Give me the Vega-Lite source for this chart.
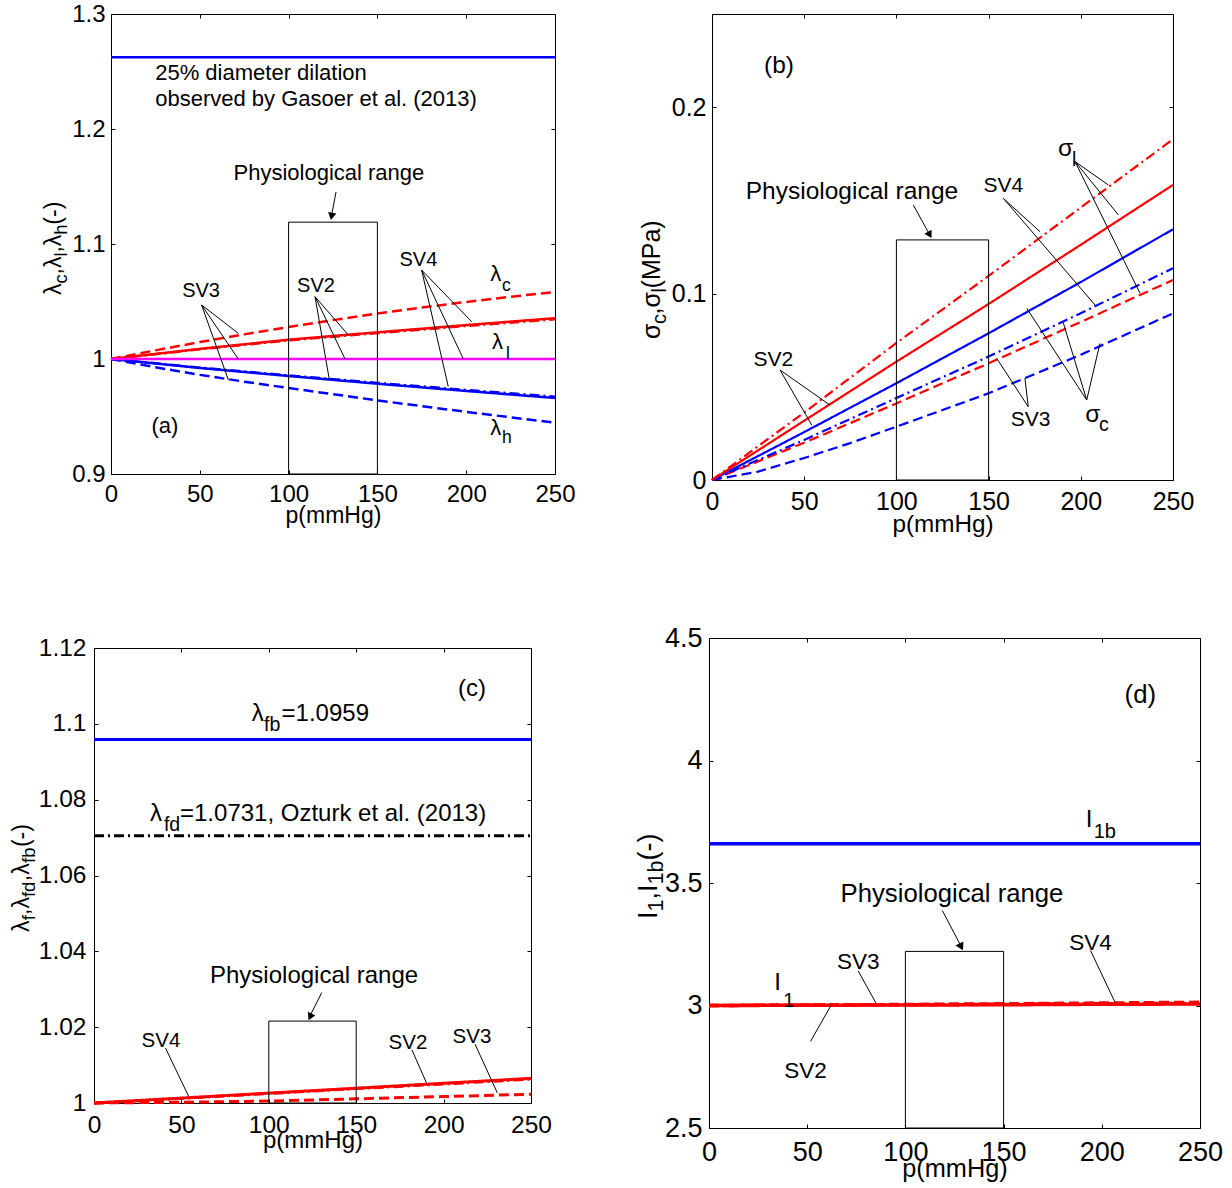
{
"$schema": "https://vega.github.io/schema/vega-lite/v6.json",
"autosize": {"type": "none"},
"padding": {"left": 94, "top": 14, "right": 1138, "bottom": 1174},
"background": "white",
"config": {
  "font": "Liberation Sans",
  "view": {"stroke": null},
  "axis": {"tickSize": -4, "tickColor": "black", "tickWidth": 1, "domainColor": "black", "domainWidth": 1, "labelColor": "black", "titleColor": "black", "grid": false, "titleFontWeight": "normal", "labelFlush": false, "labelOverlap": false, "labelBound": false, "labelFont": "Liberation Sans", "titleFont": "Liberation Sans"},
  "text": {"color": "black"}
},
"datasets": {
  "aL": [
    {"q":"dil","sv":"ref","p":0,"v":1.2625},{"q":"dil","sv":"ref","p":250,"v":1.2625},
    {"q":"lc","sv":"SV3","p":0,"v":1},{"q":"lc","sv":"SV3","p":25,"v":1.0075},{"q":"lc","sv":"SV3","p":50,"v":1.0147},{"q":"lc","sv":"SV3","p":75,"v":1.0214},{"q":"lc","sv":"SV3","p":100,"v":1.0278},{"q":"lc","sv":"SV3","p":125,"v":1.0338},{"q":"lc","sv":"SV3","p":150,"v":1.0395},{"q":"lc","sv":"SV3","p":175,"v":1.0447},{"q":"lc","sv":"SV3","p":200,"v":1.0496},{"q":"lc","sv":"SV3","p":225,"v":1.0541},{"q":"lc","sv":"SV3","p":250,"v":1.0583},
    {"q":"lc","sv":"SV4","p":0,"v":1},{"q":"lc","sv":"SV4","p":50,"v":1.0084},{"q":"lc","sv":"SV4","p":100,"v":1.0162},{"q":"lc","sv":"SV4","p":150,"v":1.0225},{"q":"lc","sv":"SV4","p":200,"v":1.0287},{"q":"lc","sv":"SV4","p":250,"v":1.0345},
    {"q":"lc","sv":"SV2","p":0,"v":1},{"q":"lc","sv":"SV2","p":50,"v":1.0088},{"q":"lc","sv":"SV2","p":100,"v":1.0168},{"q":"lc","sv":"SV2","p":150,"v":1.0232},{"q":"lc","sv":"SV2","p":200,"v":1.0295},{"q":"lc","sv":"SV2","p":250,"v":1.0355},
    {"q":"lh","sv":"SV3","p":0,"v":1},{"q":"lh","sv":"SV3","p":25,"v":0.9928},{"q":"lh","sv":"SV3","p":50,"v":0.9862},{"q":"lh","sv":"SV3","p":75,"v":0.9803},{"q":"lh","sv":"SV3","p":100,"v":0.9748},{"q":"lh","sv":"SV3","p":150,"v":0.964},{"q":"lh","sv":"SV3","p":200,"v":0.954},{"q":"lh","sv":"SV3","p":250,"v":0.9446},
    {"q":"lh","sv":"SV4","p":0,"v":1},{"q":"lh","sv":"SV4","p":50,"v":0.9925},{"q":"lh","sv":"SV4","p":100,"v":0.9857},{"q":"lh","sv":"SV4","p":150,"v":0.9792},{"q":"lh","sv":"SV4","p":200,"v":0.9731},{"q":"lh","sv":"SV4","p":250,"v":0.9672},
    {"q":"lh","sv":"SV2","p":0,"v":1},{"q":"lh","sv":"SV2","p":50,"v":0.9922},{"q":"lh","sv":"SV2","p":100,"v":0.9852},{"q":"lh","sv":"SV2","p":150,"v":0.9785},{"q":"lh","sv":"SV2","p":200,"v":0.9722},{"q":"lh","sv":"SV2","p":250,"v":0.9661},
    {"q":"ll","sv":"SV2","p":0,"v":1},{"q":"ll","sv":"SV2","p":250,"v":1}
  ],
  "aB": [{"x0":100,"x1":150,"y0":0.9,"y1":1.119}],
  "aR": [
    {"x":51.0,"y":1.047,"x2":71.7,"y2":1.0223},{"x":51.0,"y":1.047,"x2":71.7,"y2":1.0},{"x":51.0,"y":1.047,"x2":66.1,"y2":0.9817},
    {"x":114.9,"y":1.0542,"x2":133.6,"y2":1.0209},{"x":114.9,"y":1.0542,"x2":131.8,"y2":1.0},{"x":114.9,"y":1.0542,"x2":122.9,"y2":0.9823},
    {"x":174.9,"y":1.0774,"x2":203.1,"y2":1.0324},{"x":174.9,"y":1.0774,"x2":198.4,"y2":1.0},{"x":174.9,"y":1.0774,"x2":189.9,"y2":0.976},
    {"x":126.7,"y":1.1452,"x2":124.4,"y2":1.1265}
  ],
  "aH": [{"x":124.2,"y":1.124}],
  "aC": [{"x":122.7,"y":1.1617,"t":"Physiological range"},{"x":30.3,"y":0.9417,"t":"(a)"}],
  "aS": [{"x":50.7,"y":1.0592,"t":"SV3"},{"x":115.4,"y":1.0631,"t":"SV2"},{"x":173.1,"y":1.0862,"t":"SV4"}],
  "aT": [{"x":24.9,"y":1.249,"t":"25% diameter dilation"},{"x":24.9,"y":1.2259,"t":"observed by Gasoer et al. (2013)"},{"x":213.6,"y":1.0739,"t":"λ"},{"x":214.5,"y":1.0151,"t":"λ"},{"x":213.6,"y":0.9402,"t":"λ"}],
  "aU": [{"x":220.2,"y":1.0631,"t":"c"},{"x":222.4,"y":1.0046,"t":"l"},{"x":220.2,"y":0.9313,"t":"h"}],
  "aM": [{"x":-28.2,"y":1.0557,"t":"λ"},{"x":-28.2,"y":1.0735,"t":","},{"x":-28.2,"y":1.0791,"t":"λ"},{"x":-28.2,"y":1.0926,"t":","},{"x":-28.2,"y":1.0981,"t":"λ"},{"x":-28.2,"y":1.1168,"t":"(-)"}],
  "aN": [{"x":-28.2,"y":1.0657,"t":"c"},{"x":-28.2,"y":1.0891,"t":"l"},{"x":-28.2,"y":1.1081,"t":"h"}],

  "bL": [
    {"q":"sl","sv":"SV3","p":0,"v":0},{"q":"sl","sv":"SV3","p":50,"v":0.02},{"q":"sl","sv":"SV3","p":100,"v":0.0411},{"q":"sl","sv":"SV3","p":150,"v":0.0626},{"q":"sl","sv":"SV3","p":200,"v":0.0848},{"q":"sl","sv":"SV3","p":250,"v":0.1073},
    {"q":"sc","sv":"SV3","p":0,"v":0},{"q":"sc","sv":"SV3","p":25,"v":0.0045},{"q":"sc","sv":"SV3","p":50,"v":0.0118},{"q":"sc","sv":"SV3","p":75,"v":0.0198},{"q":"sc","sv":"SV3","p":100,"v":0.0286},{"q":"sc","sv":"SV3","p":150,"v":0.0465},{"q":"sc","sv":"SV3","p":200,"v":0.0672},{"q":"sc","sv":"SV3","p":250,"v":0.0894},
    {"q":"sc","sv":"SV4","p":0,"v":0},{"q":"sc","sv":"SV4","p":50,"v":0.0215},{"q":"sc","sv":"SV4","p":100,"v":0.044},{"q":"sc","sv":"SV4","p":150,"v":0.0662},{"q":"sc","sv":"SV4","p":200,"v":0.0895},{"q":"sc","sv":"SV4","p":250,"v":0.1136},
    {"q":"sl","sv":"SV4","p":0,"v":0},{"q":"sl","sv":"SV4","p":50,"v":0.0362},{"q":"sl","sv":"SV4","p":100,"v":0.0735},{"q":"sl","sv":"SV4","p":150,"v":0.1095},{"q":"sl","sv":"SV4","p":200,"v":0.1462},{"q":"sl","sv":"SV4","p":250,"v":0.1828},
    {"q":"sc","sv":"SV2","p":0,"v":0},{"q":"sc","sv":"SV2","p":50,"v":0.0257},{"q":"sc","sv":"SV2","p":100,"v":0.0519},{"q":"sc","sv":"SV2","p":150,"v":0.0787},{"q":"sc","sv":"SV2","p":200,"v":0.1062},{"q":"sc","sv":"SV2","p":250,"v":0.1345},
    {"q":"sl","sv":"SV2","p":0,"v":0},{"q":"sl","sv":"SV2","p":50,"v":0.0318},{"q":"sl","sv":"SV2","p":100,"v":0.0635},{"q":"sl","sv":"SV2","p":150,"v":0.0944},{"q":"sl","sv":"SV2","p":200,"v":0.1262},{"q":"sl","sv":"SV2","p":250,"v":0.1583}
  ],
  "bB": [{"x0":100,"x1":150,"y0":0,"y1":0.1288}],
  "bR": [
    {"x":196.9,"y":0.1708,"x2":214.9,"y2":0.1583},{"x":196.9,"y":0.1708,"x2":220.4,"y2":0.1422},{"x":196.9,"y":0.1708,"x2":232.1,"y2":0.1002},
    {"x":203.2,"y":0.0429,"x2":170.7,"y2":0.0921},{"x":203.2,"y":0.0429,"x2":190.5,"y2":0.0844},{"x":203.2,"y":0.0429,"x2":210.4,"y2":0.0733},
    {"x":158,"y":0.1511,"x2":177.9,"y2":0.1332},{"x":158,"y":0.1511,"x2":207.7,"y2":0.0939},
    {"x":36.9,"y":0.059,"x2":64,"y2":0.0402},{"x":36.9,"y":0.059,"x2":54.1,"y2":0.0295},
    {"x":171.5,"y":0.0393,"x2":154.4,"y2":0.0653},{"x":171.5,"y":0.0393,"x2":169.7,"y2":0.0546},
    {"x":109.2,"y":0.1475,"x2":117.8,"y2":0.132}
  ],
  "bH": [{"x":118.1,"y":0.1315}],
  "bC": [{"x":75.9,"y":0.1545,"t":"Physiological range"},{"x":36.3,"y":0.2223,"t":"(b)"}],
  "bS": [{"x":158.0,"y":0.1577,"t":"SV4"},{"x":33.3,"y":0.0644,"t":"SV2"},{"x":172.8,"y":0.0321,"t":"SV3"}],
  "bT": [{"x":187.6,"y":0.1778,"t":"σ"},{"x":202.4,"y":0.0349,"t":"σ"}],
  "bU": [{"x":195.2,"y":0.1715,"t":"l"},{"x":209.9,"y":0.0293,"t":"c"}],
  "bM": [{"x":-28.2,"y":0.0756,"t":"σ"},{"x":-28.2,"y":0.0888,"t":","},{"x":-28.2,"y":0.0925,"t":"σ"},{"x":-28.2,"y":0.1028,"t":"(MPa)"}],
  "bN": [{"x":-28.2,"y":0.0837,"t":"c"},{"x":-28.2,"y":0.1006,"t":"l"}],

  "cL": [
    {"q":"fb","sv":"ref","p":0,"v":1.0959},{"q":"fb","sv":"ref","p":250,"v":1.0959},
    {"q":"fd","sv":"refdd","p":0,"v":1.0705},{"q":"fd","sv":"refdd","p":250,"v":1.0705},
    {"q":"f","sv":"SV3","p":0,"v":1},{"q":"f","sv":"SV3","p":50,"v":1.0002},{"q":"f","sv":"SV3","p":100,"v":1.0005},{"q":"f","sv":"SV3","p":150,"v":1.0011},{"q":"f","sv":"SV3","p":200,"v":1.0017},{"q":"f","sv":"SV3","p":250,"v":1.0023},
    {"q":"f","sv":"SV4","p":0,"v":1},{"q":"f","sv":"SV4","p":50,"v":1.0012},{"q":"f","sv":"SV4","p":100,"v":1.0025},{"q":"f","sv":"SV4","p":150,"v":1.0038},{"q":"f","sv":"SV4","p":200,"v":1.005},{"q":"f","sv":"SV4","p":250,"v":1.0063},
    {"q":"f","sv":"SV2","p":0,"v":1},{"q":"f","sv":"SV2","p":50,"v":1.0013},{"q":"f","sv":"SV2","p":100,"v":1.0026},{"q":"f","sv":"SV2","p":150,"v":1.0039},{"q":"f","sv":"SV2","p":200,"v":1.0052},{"q":"f","sv":"SV2","p":250,"v":1.0065}
  ],
  "cB": [{"x0":100,"x1":150,"y0":1,"y1":1.0216}],
  "cR": [
    {"x":40.9,"y":1.0145,"x2":54.1,"y2":1.0018},{"x":181.9,"y":1.014,"x2":190.2,"y2":1.0053},{"x":218,"y":1.0155,"x2":230.7,"y2":1.0027},
    {"x":130.3,"y":1.0291,"x2":123.8,"y2":1.0232}
  ],
  "cH": [{"x":123.6,"y":1.0227}],
  "cC": [{"x":125.9,"y":1.0336,"t":"Physiological range"},{"x":216.2,"y":1.1092,"t":"(c)"}],
  "cS": [{"x":38.3,"y":1.0164,"t":"SV4"},{"x":179.6,"y":1.0159,"t":"SV2"},{"x":216.2,"y":1.0173,"t":"SV3"}],
  "cT": [{"x":90.2,"y":1.1026,"t":"λ"},{"x":107.3,"y":1.1026,"t":"=1.0959"},{"x":32.0,"y":1.0762,"t":"λ"},{"x":49.2,"y":1.0762,"t":"=1.0731, Ozturk et al. (2013)"}],
  "cU": [{"x":97.3,"y":1.0996,"t":"fb"},{"x":40.0,"y":1.0734,"t":"fd"}],
  "cM": [{"x":-36.9,"y":1.0451,"t":"λ"},{"x":-36.9,"y":1.0496,"t":","},{"x":-36.9,"y":1.0513,"t":"λ"},{"x":-36.9,"y":1.0585,"t":","},{"x":-36.9,"y":1.0602,"t":"λ"},{"x":-36.9,"y":1.0675,"t":"(-)"}],
  "cN": [{"x":-36.9,"y":1.0482,"t":"f"},{"x":-36.9,"y":1.0543,"t":"fd"},{"x":-36.9,"y":1.0633,"t":"fb"}],

  "dL": [
    {"q":"b","sv":"ref","p":0,"v":3.66},{"q":"b","sv":"ref","p":250,"v":3.66},
    {"q":"i","sv":"SV3","p":0,"v":3},{"q":"i","sv":"SV3","p":100,"v":3.004},{"q":"i","sv":"SV3","p":150,"v":3.007},{"q":"i","sv":"SV3","p":200,"v":3.01},{"q":"i","sv":"SV3","p":250,"v":3.013},
    {"q":"i","sv":"SV4","p":0,"v":3},{"q":"i","sv":"SV4","p":100,"v":3.003},{"q":"i","sv":"SV4","p":150,"v":3.005},{"q":"i","sv":"SV4","p":200,"v":3.007},{"q":"i","sv":"SV4","p":250,"v":3.009},
    {"q":"i","sv":"SV2","p":0,"v":3},{"q":"i","sv":"SV2","p":100,"v":3.002},{"q":"i","sv":"SV2","p":150,"v":3.003},{"q":"i","sv":"SV2","p":200,"v":3.005},{"q":"i","sv":"SV2","p":250,"v":3.006}
  ],
  "dB": [{"x0":100,"x1":150,"y0":2.5,"y1":3.2208}],
  "dR": [
    {"x":76.0,"y":3.1408,"x2":85.0,"y2":3.0102},{"x":194.3,"y":3.2237,"x2":206.9,"y2":3.0102},{"x":51.7,"y":2.8535,"x2":62.1,"y2":3.0},
    {"x":118.8,"y":3.3878,"x2":128.0,"y2":3.247}
  ],
  "dH": [{"x":128.4,"y":3.2392}],
  "dC": [{"x":123.7,"y":3.4535,"t":"Physiological range"},{"x":219.6,"y":4.2665,"t":"(d)"}],
  "dS": [{"x":76.0,"y":3.1776,"t":"SV3"},{"x":194.3,"y":3.2571,"t":"SV4"},{"x":49.1,"y":2.7343,"t":"SV2"}],
  "dT": [{"x":191.8,"y":3.7571,"t":"I"},{"x":33.2,"y":3.0902,"t":"I"}],
  "dU": [{"x":195.9,"y":3.7082,"t":"1b"},{"x":37.8,"y":3.0184,"t":"1"}],
  "dM": [{"x":-26.5,"y":3.3531,"t":"I"},{"x":-26.5,"y":3.4327,"t":","},{"x":-26.5,"y":3.4633,"t":"I"},{"x":-26.5,"y":3.5918,"t":"(-)"}],
  "dN": [{"x":-26.5,"y":3.3837,"t":"1"},{"x":-26.5,"y":3.4939,"t":"1b"}]
},
"columns": 2,
"spacing": {"row": 158, "column": 154},
"align": "each",
"bounds": "flush",
"resolve": {"scale": {"x": "independent", "y": "independent", "color": "independent", "strokeDash": "independent"}},
"concat": [
{
 "width": 461, "height": 460,
 "layer": [
  {"data": {"name": "aL"}, "mark": {"type": "line", "strokeWidth": 2.5},
   "encoding": {
    "x": {"field": "p", "type": "quantitative", "scale": {"domain": [0, 250], "range": [17, 461], "nice": false, "zero": false}, "axis": {"orient": "bottom", "values": [0,50,100,150,200,250], "format": "d", "title": "p(mmHg)", "labelFontSize": 24, "titleFontSize": 23, "labelPadding": 12, "titlePadding": -2}},
    "y": {"field": "v", "type": "quantitative", "scale": {"domain": [0.9, 1.3], "nice": false, "zero": false}, "axis": {"orient": "left", "values": [0.9,1,1.1,1.2,1.3], "format": ".2~f", "title": null, "labelFontSize": 24, "labelPadding": 10, "offset": -17}},
    "color": {"field": "q", "type": "nominal", "scale": {"domain": ["dil","lc","lh","ll"], "range": ["#0000ff","#ff0000","#0000ff","#ff00ff"]}, "legend": null},
    "strokeDash": {"field": "sv", "type": "nominal", "scale": {"domain": ["ref","SV2","SV3","SV4"], "range": [[1,0],[1,0],[10,5],[10,4,2,4]]}, "legend": null}
   }},
  {"data": {"name": "aB"}, "mark": {"type": "rect", "filled": false, "color": "black", "strokeWidth": 1},
   "encoding": {
    "x": {"field": "x0", "type": "quantitative", "axis": {"orient": "top", "values": [0,50,100,150,200,250], "labels": false, "title": null}},
    "x2": {"field": "x1"},
    "y": {"field": "y0", "type": "quantitative", "axis": {"orient": "right", "values": [0.9,1,1.1,1.2,1.3], "labels": false, "title": null}},
    "y2": {"field": "y1"}
   }},
  {"data": {"name": "aR"}, "mark": {"type": "rule", "color": "black", "strokeWidth": 1},
   "encoding": {"x": {"field": "x", "type": "quantitative", "axis": null}, "y": {"field": "y", "type": "quantitative", "axis": null}, "x2": {"field": "x2"}, "y2": {"field": "y2"}}},
  {"data": {"name": "aH"}, "mark": {"type": "point", "shape": "triangle-down", "filled": true, "color": "black", "size": 70, "angle": 10, "opacity": 1},
   "encoding": {"x": {"field": "x", "type": "quantitative", "axis": null}, "y": {"field": "y", "type": "quantitative", "axis": null}}},
  {"data": {"name": "aC"}, "mark": {"type": "text", "align": "center", "baseline": "middle", "fontSize": 22},
   "encoding": {"x": {"field": "x", "type": "quantitative", "axis": null}, "y": {"field": "y", "type": "quantitative", "axis": null}, "text": {"field": "t", "type": "nominal"}}},
  {"data": {"name": "aS"}, "mark": {"type": "text", "align": "center", "baseline": "middle", "fontSize": 20},
   "encoding": {"x": {"field": "x", "type": "quantitative", "axis": null}, "y": {"field": "y", "type": "quantitative", "axis": null}, "text": {"field": "t", "type": "nominal"}}},
  {"data": {"name": "aT"}, "mark": {"type": "text", "align": "left", "baseline": "middle", "fontSize": 22},
   "encoding": {"x": {"field": "x", "type": "quantitative", "axis": null}, "y": {"field": "y", "type": "quantitative", "axis": null}, "text": {"field": "t", "type": "nominal"}}},
  {"data": {"name": "aU"}, "mark": {"type": "text", "align": "left", "baseline": "middle", "fontSize": 17.5},
   "encoding": {"x": {"field": "x", "type": "quantitative", "axis": null}, "y": {"field": "y", "type": "quantitative", "axis": null}, "text": {"field": "t", "type": "nominal"}}},
  {"data": {"name": "aM"}, "mark": {"type": "text", "align": "left", "baseline": "alphabetic", "angle": 270, "fontSize": 23},
   "encoding": {"x": {"field": "x", "type": "quantitative", "axis": null}, "y": {"field": "y", "type": "quantitative", "axis": null}, "text": {"field": "t", "type": "nominal"}}},
  {"data": {"name": "aN"}, "mark": {"type": "text", "align": "left", "baseline": "alphabetic", "angle": 270, "fontSize": 18.5, "dy": 6},
   "encoding": {"x": {"field": "x", "type": "quantitative", "axis": null}, "y": {"field": "y", "type": "quantitative", "axis": null}, "text": {"field": "t", "type": "nominal"}}}
 ]
},
{
 "width": 464, "height": 466,
 "layer": [
  {"data": {"name": "bL"}, "mark": {"type": "line", "strokeWidth": 2.2},
   "encoding": {
    "x": {"field": "p", "type": "quantitative", "scale": {"domain": [0, 250], "range": [3, 464], "nice": false, "zero": false}, "axis": {"orient": "bottom", "values": [0,50,100,150,200,250], "format": "d", "title": "p(mmHg)", "labelFontSize": 25, "titleFontSize": 24.3, "labelPadding": 13, "titlePadding": -1.5}},
    "y": {"field": "v", "type": "quantitative", "scale": {"domain": [0, 0.25], "nice": false, "zero": false}, "axis": {"orient": "left", "values": [0,0.1,0.2], "format": ".2~f", "title": null, "labelFontSize": 25, "labelPadding": 10, "offset": -3}},
    "color": {"field": "q", "type": "nominal", "scale": {"domain": ["sl","sc"], "range": ["#ff0000","#0000ff"]}, "legend": null},
    "strokeDash": {"field": "sv", "type": "nominal", "scale": {"domain": ["SV2","SV3","SV4"], "range": [[1,0],[10,5],[10,4,2,4]]}, "legend": null}
   }},
  {"data": {"name": "bB"}, "mark": {"type": "rect", "filled": false, "color": "black", "strokeWidth": 1},
   "encoding": {
    "x": {"field": "x0", "type": "quantitative", "axis": {"orient": "top", "values": [0,50,100,150,200,250], "labels": false, "title": null}},
    "x2": {"field": "x1"},
    "y": {"field": "y0", "type": "quantitative", "axis": {"orient": "right", "values": [0,0.1,0.2], "labels": false, "title": null}},
    "y2": {"field": "y1"}
   }},
  {"data": {"name": "bR"}, "mark": {"type": "rule", "color": "black", "strokeWidth": 1},
   "encoding": {"x": {"field": "x", "type": "quantitative", "axis": null}, "y": {"field": "y", "type": "quantitative", "axis": null}, "x2": {"field": "x2"}, "y2": {"field": "y2"}}},
  {"data": {"name": "bH"}, "mark": {"type": "point", "shape": "triangle-down", "filled": true, "color": "black", "size": 70, "angle": 330, "opacity": 1},
   "encoding": {"x": {"field": "x", "type": "quantitative", "axis": null}, "y": {"field": "y", "type": "quantitative", "axis": null}}},
  {"data": {"name": "bC"}, "mark": {"type": "text", "align": "center", "baseline": "middle", "fontSize": 24.5},
   "encoding": {"x": {"field": "x", "type": "quantitative", "axis": null}, "y": {"field": "y", "type": "quantitative", "axis": null}, "text": {"field": "t", "type": "nominal"}}},
  {"data": {"name": "bS"}, "mark": {"type": "text", "align": "center", "baseline": "middle", "fontSize": 21},
   "encoding": {"x": {"field": "x", "type": "quantitative", "axis": null}, "y": {"field": "y", "type": "quantitative", "axis": null}, "text": {"field": "t", "type": "nominal"}}},
  {"data": {"name": "bT"}, "mark": {"type": "text", "align": "left", "baseline": "middle", "fontSize": 24.5},
   "encoding": {"x": {"field": "x", "type": "quantitative", "axis": null}, "y": {"field": "y", "type": "quantitative", "axis": null}, "text": {"field": "t", "type": "nominal"}}},
  {"data": {"name": "bU"}, "mark": {"type": "text", "align": "left", "baseline": "middle", "fontSize": 19.5},
   "encoding": {"x": {"field": "x", "type": "quantitative", "axis": null}, "y": {"field": "y", "type": "quantitative", "axis": null}, "text": {"field": "t", "type": "nominal"}}},
  {"data": {"name": "bM"}, "mark": {"type": "text", "align": "left", "baseline": "alphabetic", "angle": 270, "fontSize": 25},
   "encoding": {"x": {"field": "x", "type": "quantitative", "axis": null}, "y": {"field": "y", "type": "quantitative", "axis": null}, "text": {"field": "t", "type": "nominal"}}},
  {"data": {"name": "bN"}, "mark": {"type": "text", "align": "left", "baseline": "alphabetic", "angle": 270, "fontSize": 20, "dy": 6},
   "encoding": {"x": {"field": "x", "type": "quantitative", "axis": null}, "y": {"field": "y", "type": "quantitative", "axis": null}, "text": {"field": "t", "type": "nominal"}}}
 ]
},
{
 "width": 437, "height": 465,
 "layer": [
  {"data": {"name": "cL"}, "mark": {"type": "line", "strokeWidth": 3},
   "encoding": {
    "x": {"field": "p", "type": "quantitative", "scale": {"domain": [0, 250], "nice": false, "zero": false}, "axis": {"orient": "bottom", "values": [0,50,100,150,200,250], "format": "d", "title": "p(mmHg)", "labelFontSize": 24.5, "titleFontSize": 24, "labelPadding": 14, "titlePadding": -8}},
    "y": {"field": "v", "type": "quantitative", "scale": {"domain": [1, 1.12], "range": [465, 10], "nice": false, "zero": false}, "axis": {"orient": "left", "values": [1,1.02,1.04,1.06,1.08,1.1,1.12], "format": ".2~f", "title": null, "labelFontSize": 24.5, "labelPadding": 12}},
    "color": {"field": "q", "type": "nominal", "scale": {"domain": ["fb","fd","f"], "range": ["#0000ff","#000000","#ff0000"]}, "legend": null},
    "strokeDash": {"field": "sv", "type": "nominal", "scale": {"domain": ["ref","refdd","SV2","SV3","SV4"], "range": [[1,0],[10,4,2,4],[1,0],[10,5],[10,4,2,4]]}, "legend": null},
    "strokeWidth": {"field": "q", "type": "nominal", "scale": {"domain": ["fb","fd","f"], "range": [3, 2, 3]}, "legend": null}
   }},
  {"data": {"name": "cB"}, "mark": {"type": "rect", "filled": false, "color": "black", "strokeWidth": 1},
   "encoding": {
    "x": {"field": "x0", "type": "quantitative", "axis": {"orient": "top", "values": [0,50,100,150,200,250], "labels": false, "title": null, "offset": -10}},
    "x2": {"field": "x1"},
    "y": {"field": "y0", "type": "quantitative", "axis": {"orient": "right", "values": [1,1.02,1.04,1.06,1.08,1.1,1.12], "labels": false, "title": null}},
    "y2": {"field": "y1"}
   }},
  {"data": {"name": "cR"}, "mark": {"type": "rule", "color": "black", "strokeWidth": 1},
   "encoding": {"x": {"field": "x", "type": "quantitative", "axis": null}, "y": {"field": "y", "type": "quantitative", "axis": null}, "x2": {"field": "x2"}, "y2": {"field": "y2"}}},
  {"data": {"name": "cH"}, "mark": {"type": "point", "shape": "triangle-down", "filled": true, "color": "black", "size": 70, "angle": 26, "opacity": 1},
   "encoding": {"x": {"field": "x", "type": "quantitative", "axis": null}, "y": {"field": "y", "type": "quantitative", "axis": null}}},
  {"data": {"name": "cC"}, "mark": {"type": "text", "align": "center", "baseline": "middle", "fontSize": 24},
   "encoding": {"x": {"field": "x", "type": "quantitative", "axis": null}, "y": {"field": "y", "type": "quantitative", "axis": null}, "text": {"field": "t", "type": "nominal"}}},
  {"data": {"name": "cS"}, "mark": {"type": "text", "align": "center", "baseline": "middle", "fontSize": 20.5},
   "encoding": {"x": {"field": "x", "type": "quantitative", "axis": null}, "y": {"field": "y", "type": "quantitative", "axis": null}, "text": {"field": "t", "type": "nominal"}}},
  {"data": {"name": "cT"}, "mark": {"type": "text", "align": "left", "baseline": "middle", "fontSize": 24},
   "encoding": {"x": {"field": "x", "type": "quantitative", "axis": null}, "y": {"field": "y", "type": "quantitative", "axis": null}, "text": {"field": "t", "type": "nominal"}}},
  {"data": {"name": "cU"}, "mark": {"type": "text", "align": "left", "baseline": "middle", "fontSize": 19.5},
   "encoding": {"x": {"field": "x", "type": "quantitative", "axis": null}, "y": {"field": "y", "type": "quantitative", "axis": null}, "text": {"field": "t", "type": "nominal"}}},
  {"data": {"name": "cM"}, "mark": {"type": "text", "align": "left", "baseline": "alphabetic", "angle": 270, "fontSize": 23},
   "encoding": {"x": {"field": "x", "type": "quantitative", "axis": null}, "y": {"field": "y", "type": "quantitative", "axis": null}, "text": {"field": "t", "type": "nominal"}}},
  {"data": {"name": "cN"}, "mark": {"type": "text", "align": "left", "baseline": "alphabetic", "angle": 270, "fontSize": 18.5, "dy": 6},
   "encoding": {"x": {"field": "x", "type": "quantitative", "axis": null}, "y": {"field": "y", "type": "quantitative", "axis": null}, "text": {"field": "t", "type": "nominal"}}}
 ]
},
{
 "width": 491, "height": 490,
 "layer": [
  {"data": {"name": "dL"}, "mark": {"type": "line", "strokeWidth": 3.5},
   "encoding": {
    "x": {"field": "p", "type": "quantitative", "scale": {"domain": [0, 250], "nice": false, "zero": false}, "axis": {"orient": "bottom", "values": [0,50,100,150,200,250], "format": "d", "title": "p(mmHg)", "labelFontSize": 27, "titleFontSize": 25.3, "labelPadding": 15, "titlePadding": -9}},
    "y": {"field": "v", "type": "quantitative", "scale": {"domain": [2.5, 4.5], "nice": false, "zero": false}, "axis": {"orient": "left", "values": [2.5,3,3.5,4,4.5], "format": ".2~f", "title": null, "labelFontSize": 27, "labelPadding": 11}},
    "color": {"field": "q", "type": "nominal", "scale": {"domain": ["b","i"], "range": ["#0000ff","#ff0000"]}, "legend": null},
    "strokeDash": {"field": "sv", "type": "nominal", "scale": {"domain": ["ref","SV2","SV3","SV4"], "range": [[1,0],[1,0],[10,5],[10,4,2,4]]}, "legend": null}
   }},
  {"data": {"name": "dB"}, "mark": {"type": "rect", "filled": false, "color": "black", "strokeWidth": 1},
   "encoding": {
    "x": {"field": "x0", "type": "quantitative", "axis": {"orient": "top", "values": [0,50,100,150,200,250], "labels": false, "title": null}},
    "x2": {"field": "x1"},
    "y": {"field": "y0", "type": "quantitative", "axis": {"orient": "right", "values": [2.5,3,3.5,4,4.5], "labels": false, "title": null}},
    "y2": {"field": "y1"}
   }},
  {"data": {"name": "dR"}, "mark": {"type": "rule", "color": "black", "strokeWidth": 1},
   "encoding": {"x": {"field": "x", "type": "quantitative", "axis": null}, "y": {"field": "y", "type": "quantitative", "axis": null}, "x2": {"field": "x2"}, "y2": {"field": "y2"}}},
  {"data": {"name": "dH"}, "mark": {"type": "point", "shape": "triangle-down", "filled": true, "color": "black", "size": 80, "angle": 333, "opacity": 1},
   "encoding": {"x": {"field": "x", "type": "quantitative", "axis": null}, "y": {"field": "y", "type": "quantitative", "axis": null}}},
  {"data": {"name": "dC"}, "mark": {"type": "text", "align": "center", "baseline": "middle", "fontSize": 25.7},
   "encoding": {"x": {"field": "x", "type": "quantitative", "axis": null}, "y": {"field": "y", "type": "quantitative", "axis": null}, "text": {"field": "t", "type": "nominal"}}},
  {"data": {"name": "dS"}, "mark": {"type": "text", "align": "center", "baseline": "middle", "fontSize": 22.5},
   "encoding": {"x": {"field": "x", "type": "quantitative", "axis": null}, "y": {"field": "y", "type": "quantitative", "axis": null}, "text": {"field": "t", "type": "nominal"}}},
  {"data": {"name": "dT"}, "mark": {"type": "text", "align": "left", "baseline": "middle", "fontSize": 24},
   "encoding": {"x": {"field": "x", "type": "quantitative", "axis": null}, "y": {"field": "y", "type": "quantitative", "axis": null}, "text": {"field": "t", "type": "nominal"}}},
  {"data": {"name": "dU"}, "mark": {"type": "text", "align": "left", "baseline": "middle", "fontSize": 20},
   "encoding": {"x": {"field": "x", "type": "quantitative", "axis": null}, "y": {"field": "y", "type": "quantitative", "axis": null}, "text": {"field": "t", "type": "nominal"}}},
  {"data": {"name": "dM"}, "mark": {"type": "text", "align": "left", "baseline": "alphabetic", "angle": 270, "fontSize": 27},
   "encoding": {"x": {"field": "x", "type": "quantitative", "axis": null}, "y": {"field": "y", "type": "quantitative", "axis": null}, "text": {"field": "t", "type": "nominal"}}},
  {"data": {"name": "dN"}, "mark": {"type": "text", "align": "left", "baseline": "alphabetic", "angle": 270, "fontSize": 21.6, "dy": 6},
   "encoding": {"x": {"field": "x", "type": "quantitative", "axis": null}, "y": {"field": "y", "type": "quantitative", "axis": null}, "text": {"field": "t", "type": "nominal"}}}
 ]
}
]
}
